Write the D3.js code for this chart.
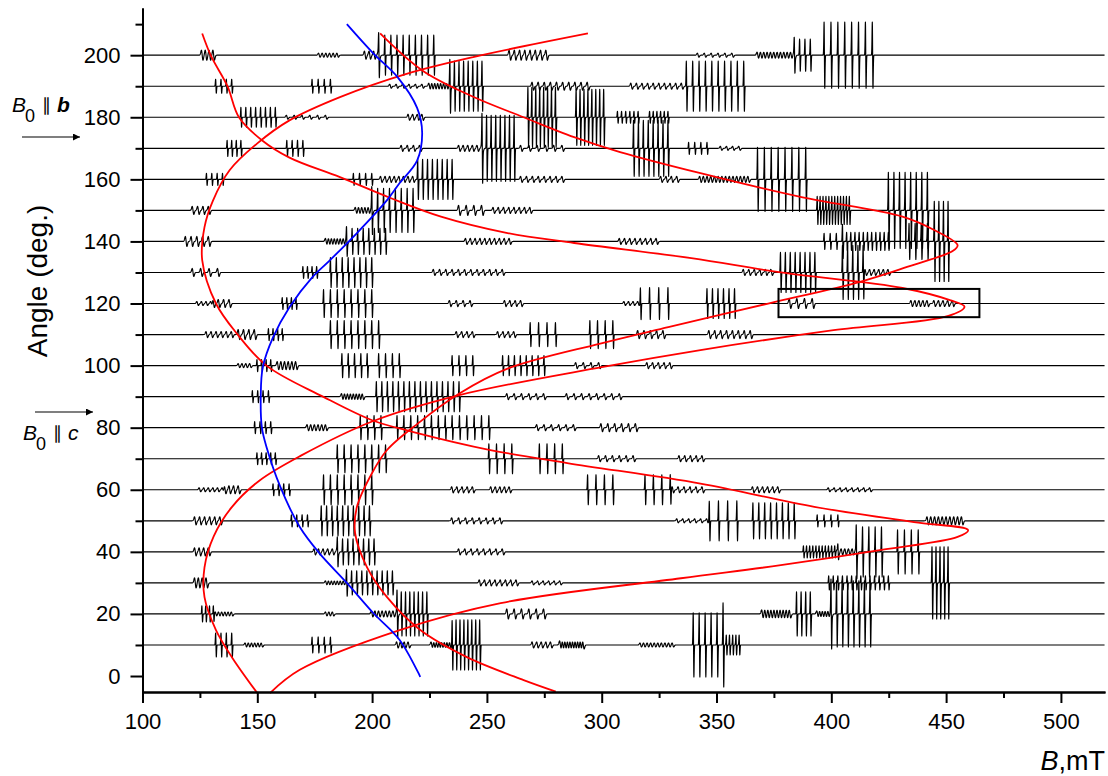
<!DOCTYPE html>
<html>
<head>
<meta charset="utf-8">
<script src="https://d3js.org/d3.v7.min.js"></script>
<style>
body { margin: 0; background: #fff; }
text { font-family: "Liberation Sans", Arial, sans-serif; fill: #000; }
</style>
</head>
<body>
<svg width="1108" height="776"></svg>
<script>

// rotation angles of the recorded spectra (deg.)
var angles = [10,20,30,40,50,60,70,80,90,100,110,120,130,140,150,160,170,180,190,200];

// every spectrum as groups of hyperfine lines: [from mT, to mT, number of lines, amplitude a.u.]
var spectra = [
  [[132,139,4,12],[145,152,6,2],[174,182,4,8],[211,216,4,3],[226,234,8,3],[235,247,8,25],[270,278,5,3],[282,292,10,4],[317,331,10,2],[340,353,6,32],[353,360,6,10]],
  [[126,131,4,8],[132,139,6,2],[180,183,3,2],[200,211,8,3],[211,224,8,22],[259,275,6,5],[370,382,10,4],[385,391,4,22],[394,400,6,3],[400,417,8,33]],
  [[123,128,4,5],[180,189,8,2],[189,209,10,12],[247,263,8,3],[270,282,6,2],[399,425,14,7],[444,451,5,36]],
  [[123,129,4,4],[175,185,6,3],[185,201,8,13],[238,257,8,3],[388,403,12,6],[403,411,6,3],[411,422,5,25],[429,438,4,22]],
  [[123,134,6,4],[165,172,4,6],[178,199,10,15],[235,256,8,3],[333,346,6,2],[347,359,4,20],[366,384,8,18],[394,403,4,6],[442,457,10,4]],
  [[125,135,6,2],[136,142,4,4],[157,164,4,6],[179,200,8,15],[235,244,5,3],[252,260,5,3],[294,305,4,15],[319,330,4,15],[331,344,6,3],[366,377,6,3],[399,417,8,2]],
  [[150,158,5,6],[185,206,8,14],[251,261,4,15],[273,283,4,15],[299,314,6,3],[334,344,5,3]],
  [[149,156,4,6],[172,180,6,3],[195,204,4,12],[211,232,8,12],[235,251,6,12],[272,288,6,3],[300,315,6,4]],
  [[148,155,4,6],[187,196,8,3],[202,238,16,15],[259,275,6,3],[285,308,8,3]],
  [[142,147,4,2],[150,156,4,6],[159,167,6,4],[187,198,5,12],[203,212,4,12],[235,244,4,10],[257,275,8,10],[289,299,4,3],[320,330,5,3]],
  [[128,139,6,3],[142,149,4,5],[155,161,4,6],[182,203,8,14],[237,244,4,3],[255,262,4,3],[269,280,4,12],[295,305,4,14],[316,327,5,4],[347,365,8,4]],
  [[124,130,4,2],[131,138,4,4],[161,167,4,6],[179,200,8,14],[234,243,4,3],[258,265,4,3],[310,316,4,2],[317,329,4,16],[346,358,6,15],[382,392,4,5],[435,442,5,3],[445,453,5,3]],
  [[122,133,4,4],[170,176,4,6],[182,200,8,15],[227,257,12,3],[362,374,6,3],[378,393,8,20],[405,414,5,27],[415,425,6,3]],
  [[119,129,5,5],[180,189,8,3],[189,206,8,13],[241,260,10,3],[308,324,8,3],[397,405,4,8],[405,425,12,9],[434,442,4,18],[445,451,4,40]],
  [[122,129,4,4],[193,200,6,3],[200,218,8,22],[238,248,4,5],[253,269,8,3],[394,408,12,14],[425,442,8,38]],
  [[128,135,4,6],[192,200,4,6],[204,218,8,3],[220,235,8,20],[265,283,8,3],[326,333,4,3],[343,364,14,3],[368,389,8,32]],
  [[137,143,4,8],[163,170,4,8],[213,221,4,3],[238,248,6,3],[248,262,8,33],[265,283,6,3],[314,329,8,28],[338,346,4,6],[352,360,4,2]],
  [[143,158,8,10],[163,180,6,2],[216,222,4,3],[268,280,8,30],[289,301,8,28],[307,316,6,6],[321,329,6,6]],
  [[132,139,4,7],[174,182,4,7],[208,222,6,2],[225,234,8,3],[234,248,8,25],[270,294,10,4],[313,335,10,3],[337,362,10,25]],
  [[126,131,4,5],[177,185,6,2],[197,203,4,4],[203,227,10,20],[260,276,8,5],[342,357,6,2],[368,384,12,3],[384,391,4,16],[397,418,8,33]]
];

// angular dependences of the line positions: [B mT, angle deg.]
var curveA = [[126,207],[130,199.5],[137,190],[142,180],[152,172.6],[164,167],[186,160.7],[208,154],[230,148],[259,142.7],[288,139.5],[339,134.6],[378,130],[431,125],[452,121],[458,119],[451,116],[401,111.4],[343,105],[300,99.5],[238,90.5],[200,82],[169,71],[151,63],[139,54.5],[131,45],[127,35],[127,25.4],[132,14.8],[139,6],[150,-5.5]];
var curveB = [[294,207],[244,199.4],[215,194],[186,186.5],[164,179],[150,171.6],[138,163],[130.6,153],[127,144.6],[126,134],[132,120],[141,110.4],[154,100],[178.6,90],[200,82.4],[218,78.6],[251.5,72.8],[285,68.6],[343,62],[392.6,54.5],[436,49.6],[459.6,47],[455,44.8],[421.8,40.6],[378,35.7],[334.5,31.5],[256,23.5],[212,14.8],[168.5,2],[155.5,-5.5]];
var curveC = [[203.5,207],[222,195],[244,186.6],[266,180],[288,173.6],[308,168.8],[343,162],[387,154.3],[431,148],[445,143.6],[455,138.8],[453,137],[433,131.8],[412.5,127],[372.5,120],[329,112.4],[299.4,107.1],[259,99],[238,91],[220,81.4],[206.5,72.8],[200,65.4],[193.4,54.5],[192.6,46],[197.8,35],[206.5,25.4],[221,14.8],[241.5,6],[266,-1.3],[280,-5]];
var curveBlue = [[189,210],[200.5,200.6],[211,193],[219.6,183],[221.8,175],[219.6,166],[212,158.8],[206.5,153.3],[193.4,142.7],[181.7,134],[174,128.5],[164,118.8],[156.8,109],[152.4,99.5],[151.5,90],[152,80],[154,73.8],[160,61],[168.5,48],[177,39.6],[189,30],[200.5,20.3],[212,11.6],[221,-0.3]];

// highlighted spectrum region: [B from, B to, angle from, angle to]
var box = [377, 464.5, 115.6, 124.7];

var yTicks = [0,20,40,60,80,100,120,140,160,180,200];
var yMinor = [10,30,50,70,90,110,130,150,170,190,210];
var xTicks = [100,150,200,250,300,350,400,450,500];
var xMinor = [125,175,225,275,325,375,425,475];

var svg = d3.select('svg');
var x = d3.scaleLinear().domain([100, 519.2]).range([142.5, 1105]);
var y = d3.scaleLinear().domain([-5.15, 215.2]).range([692, 8]);
var amp = d3.scaleLinear().domain([0, 31]).range([0, 10]); // a.u. -> deg.

// sharp lines for the strong groups, broader ones for the weak wiggles
function width(a) { return a <= 5 ? 0.35 : 0.15; }

function centers(groups) {
  var c = [];
  groups.forEach(function(g) {
    var step = g[2] > 1 ? (g[1] - g[0]) / (g[2] - 1) : 0;
    for (var i = 0; i < g[2]; i++) c.push([g[0] + i * step, g[3], width(g[3])]);
  });
  return c;
}

function signal(lines, b) {
  var s = 0;
  lines.forEach(function(l) {
    var u = (b - l[0]) / l[2];
    if (Math.abs(u) < 6) s += -l[1] * u * Math.exp(0.5 - u * u / 2);
  });
  return s;
}

var line = d3.line().x(function(d) { return x(d[0]); }).y(function(d) { return y(d[1]); });

var gSpec = svg.append('g');
angles.forEach(function(a, k) {
  var lines = centers(spectra[k]);
  var fields = d3.range(100, 519.2, 0.25);
  lines.forEach(function(l) {
    d3.range(-15, 16).forEach(function(j) { fields.push(l[0] + j * l[2] / 3); });
  });
  fields.sort(d3.ascending);
  var pts = fields.map(function(b) { return [b, a + amp(signal(lines, b))]; });
  gSpec.append('path')
    .attr('d', line(pts))
    .attr('fill', 'none')
    .attr('stroke', '#000')
    .attr('stroke-width', 1.15)
    .attr('stroke-linejoin', 'round');
});

var smooth = d3.line().curve(d3.curveCatmullRom).x(function(d) { return x(d[0]); }).y(function(d) { return y(d[1]); });
[[curveA, '#ff0000'], [curveB, '#ff0000'], [curveC, '#ff0000'], [curveBlue, '#0000ff']].forEach(function(c) {
  svg.append('path')
    .attr('d', smooth(c[0]))
    .attr('fill', 'none')
    .attr('stroke', c[1])
    .attr('stroke-width', 1.8);
});

svg.append('rect')
  .attr('x', x(box[0]))
  .attr('y', y(box[3]))
  .attr('width', x(box[1]) - x(box[0]))
  .attr('height', y(box[2]) - y(box[3]))
  .attr('fill', 'none')
  .attr('stroke', '#000')
  .attr('stroke-width', 2);

// axes
svg.append('g').attr('transform', 'translate(142.5,0)')
  .call(d3.axisLeft(y).tickValues(yTicks).tickSize(12).tickSizeOuter(0).tickPadding(10));
svg.append('g').attr('transform', 'translate(142.5,0)')
  .call(d3.axisLeft(y).tickValues(yMinor).tickSize(7).tickSizeOuter(0).tickFormat(''));
svg.append('g').attr('transform', 'translate(0,692)')
  .call(d3.axisBottom(x).tickValues(xTicks).tickSize(11).tickSizeOuter(0).tickPadding(10));
svg.append('g').attr('transform', 'translate(0,692)')
  .call(d3.axisBottom(x).tickValues(xMinor).tickSize(6).tickSizeOuter(0).tickFormat(''));

svg.selectAll('.domain').attr('stroke', '#000').attr('stroke-width', 2);
svg.selectAll('.tick line').attr('stroke', '#000').attr('stroke-width', 2);
svg.selectAll('.tick text').attr('font-size', 22).attr('font-family', '"Liberation Sans", Arial, sans-serif').attr('fill', '#000');

svg.append('text')
  .attr('transform', 'translate(47,281) rotate(-90)')
  .attr('text-anchor', 'middle')
  .attr('font-size', 28)
  .text('Angle (deg.)');

var xt = svg.append('text')
  .attr('x', 1105).attr('y', 770)
  .attr('text-anchor', 'end')
  .attr('font-size', 27);
xt.append('tspan').attr('font-style', 'italic').text('B');
xt.append('tspan').text(',mT');

// orientation marks
svg.append('defs').append('marker')
  .attr('id', 'arr').attr('viewBox', '0 0 10 10')
  .attr('refX', 10).attr('refY', 5)
  .attr('markerWidth', 15).attr('markerHeight', 7)
  .attr('markerUnits', 'userSpaceOnUse')
  .attr('orient', 'auto')
  .append('path').attr('d', 'M0,0L10,5L0,10z').attr('fill', '#000');

function orient(x0, by, ay, axisName, bold) {
  var t = svg.append('text').attr('font-size', 21);
  t.append('tspan').attr('x', x0).attr('y', by).attr('font-style', 'italic').text('B');
  t.append('tspan').attr('x', x0 + 13).attr('y', by + 10).attr('font-size', 18).text('0');
  t.append('tspan').attr('x', x0 + 30).attr('y', by - 1).attr('font-size', 18).text('\u2225');
  t.append('tspan').attr('x', x0 + 45).attr('y', by)
    .attr('font-style', 'italic').attr('font-weight', bold ? 'bold' : 'normal').text(axisName);
  svg.append('line')
    .attr('x1', ay[0]).attr('x2', ay[1]).attr('y1', ay[2]).attr('y2', ay[2])
    .attr('stroke', '#000').attr('stroke-width', 1.2)
    .attr('marker-end', 'url(#arr)');
}
orient(12, 112, [22, 80, 137], 'b', true);
orient(23, 440, [35, 93, 412], 'c', false);

</script>
</body>
</html>
